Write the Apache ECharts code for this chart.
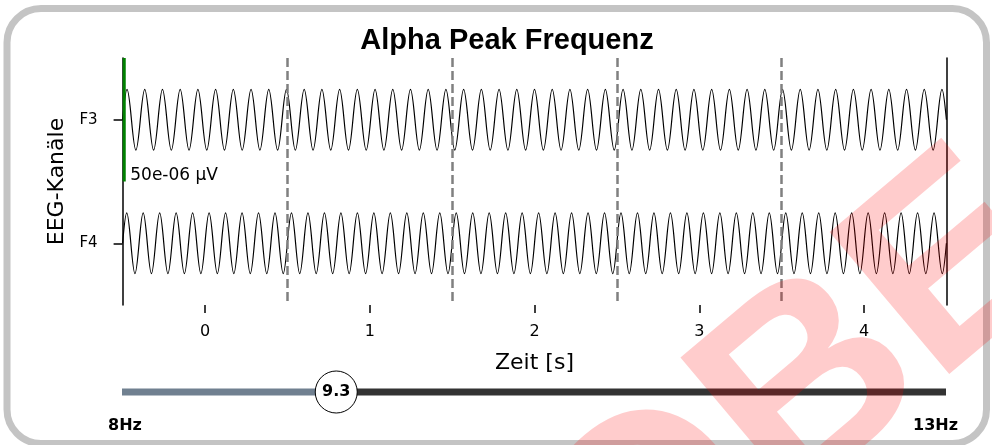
<!DOCTYPE html>
<html><head><meta charset="utf-8">
<script src="https://cdn.jsdelivr.net/npm/echarts@6/dist/echarts.min.js"></script>
<style>html,body{margin:0;padding:0;background:#fff}#chart{width:992px;height:445px}</style>
</head><body><div id="chart"></div>
<script>
// ---- data ----
const channels = ['F3', 'F4'];
const epochTicks = [0, 1, 2, 3, 4];
const epochBoundaries = [0.5, 1.5, 2.5, 3.5];

// F3: extremes of the ~9.3 Hz trace (time in s, value in µV)
const f3Times = [-0.5,
 -0.4731,-0.4194,-0.3656,-0.3118,-0.2581,-0.2043,-0.1505,-0.0968,-0.0430,0.0108,
 0.0645,0.1183,0.1720,0.2258,0.2796,0.3333,0.3871,0.4409,0.4946,0.5484,
 0.6022,0.6559,0.7097,0.7634,0.8172,0.8710,0.9247,0.9785,1.0323,1.0860,
 1.1398,1.1935,1.2473,1.3011,1.3548,1.4086,1.4624,1.5161,1.5699,1.6237,
 1.6774,1.7312,1.7849,1.8387,1.8925,1.9462,2.0000,2.0538,2.1075,2.1613,
 2.2151,2.2688,2.3226,2.3763,2.4301,2.4839,2.5376,2.5914,2.6452,2.6989,
 2.7527,2.8065,2.8602,2.9140,2.9677,3.0215,3.0753,3.1290,3.1828,3.2366,
 3.2903,3.3441,3.3978,3.4516,3.5054,3.5591,3.6129,3.6667,3.7204,3.7742,
 3.8280,3.8817,3.9355,3.9892,4.0430,4.0968,4.1505,4.2043,4.2581,4.3118,
 4.3656,4.4194,4.4731,
 4.5];
const f3Values = [0,
 12.3,-12.3,12.3,-12.3,12.3,-12.3,12.3,-12.3,12.3,-12.3,
 12.3,-12.3,12.3,-12.3,12.3,-12.3,12.3,-12.3,12.3,-12.3,
 12.3,-12.3,12.3,-12.3,12.3,-12.3,12.3,-12.3,12.3,-12.3,
 12.3,-12.3,12.3,-12.3,12.3,-12.3,12.3,-12.3,12.3,-12.3,
 12.3,-12.3,12.3,-12.3,12.3,-12.3,12.3,-12.3,12.3,-12.3,
 12.3,-12.3,12.3,-12.3,12.3,-12.3,12.3,-12.3,12.3,-12.3,
 12.3,-12.3,12.3,-12.3,12.3,-12.3,12.3,-12.3,12.3,-12.3,
 12.3,-12.3,12.3,-12.3,12.3,-12.3,12.3,-12.3,12.3,-12.3,
 12.3,-12.3,12.3,-12.3,12.3,-12.3,12.3,-12.3,12.3,-12.3,
 12.3,-12.3,12.3,
 0];

// F4: extremes of the ~10 Hz trace
const f4Times = [-0.5,
 -0.475,-0.425,-0.375,-0.325,-0.275,-0.225,-0.175,-0.125,-0.075,-0.025,
 0.025,0.075,0.125,0.175,0.225,0.275,0.325,0.375,0.425,0.475,
 0.525,0.575,0.625,0.675,0.725,0.775,0.825,0.875,0.925,0.975,
 1.025,1.075,1.125,1.175,1.225,1.275,1.325,1.375,1.425,1.475,
 1.525,1.575,1.625,1.675,1.725,1.775,1.825,1.875,1.925,1.975,
 2.025,2.075,2.125,2.175,2.225,2.275,2.325,2.375,2.425,2.475,
 2.525,2.575,2.625,2.675,2.725,2.775,2.825,2.875,2.925,2.975,
 3.025,3.075,3.125,3.175,3.225,3.275,3.325,3.375,3.425,3.475,
 3.525,3.575,3.625,3.675,3.725,3.775,3.825,3.875,3.925,3.975,
 4.025,4.075,4.125,4.175,4.225,4.275,4.325,4.375,4.425,4.475,
 4.5];
const f4Values = [0,
 12.3,-12.3,12.3,-12.3,12.3,-12.3,12.3,-12.3,12.3,-12.3,
 12.3,-12.3,12.3,-12.3,12.3,-12.3,12.3,-12.3,12.3,-12.3,
 12.3,-12.3,12.3,-12.3,12.3,-12.3,12.3,-12.3,12.3,-12.3,
 12.3,-12.3,12.3,-12.3,12.3,-12.3,12.3,-12.3,12.3,-12.3,
 12.3,-12.3,12.3,-12.3,12.3,-12.3,12.3,-12.3,12.3,-12.3,
 12.3,-12.3,12.3,-12.3,12.3,-12.3,12.3,-12.3,12.3,-12.3,
 12.3,-12.3,12.3,-12.3,12.3,-12.3,12.3,-12.3,12.3,-12.3,
 12.3,-12.3,12.3,-12.3,12.3,-12.3,12.3,-12.3,12.3,-12.3,
 12.3,-12.3,12.3,-12.3,12.3,-12.3,12.3,-12.3,12.3,-12.3,
 12.3,-12.3,12.3,-12.3,12.3,-12.3,12.3,-12.3,12.3,-12.3,
 0];

const scaleBarTime = -0.49;
const scaleBarRange = [-25, 25];
const scaleBarLabel = '50e-06 µV';

const sliderMin = 8;
const sliderMax = 13;
const sliderValue = 9.3;
const sliderLabels = ['8Hz', '13Hz'];

// ---- chart ----
const zip = (a, b) => a.map((t, i) => [t, b[i]]);
const FONT = '"DejaVu Sans", sans-serif';
const L = 122.6, R = 45.6;
const chart = echarts.init(document.getElementById('chart'), null, { renderer: 'canvas' });

const option = {
  animation: false,
  backgroundColor: '#ffffff',
  title: {
    text: 'Alpha Peak Frequenz', left: 502, top: 21, textAlign: 'center',
    textStyle: { fontFamily: '"Liberation Sans", Arial, sans-serif', fontWeight: 'bold', fontSize: 29, color: '#000' }
  },
  grid: [
    { left: L, right: R, top: 58, height: 247 },
    { left: L, right: R, top: 58, height: 123.5 },
    { left: L, right: R, top: 181.5, height: 123.5 },
    { left: 122, right: 46, top: 372, height: 40 }
  ],
  xAxis: [
    { gridIndex: 0, type: 'value', min: -0.5, max: 4.5,
      axisLine: { show: false, onZero: false }, splitLine: { show: false },
      axisTick: { show: true, customValues: epochTicks, length: 8, lineStyle: { color: '#000', width: 1.5 } },
      axisLabel: { customValues: epochTicks, fontSize: 16, color: '#000', margin: 19, fontFamily: FONT },
      name: 'Zeit [s]', nameLocation: 'middle', nameGap: 47,
      nameTextStyle: { fontSize: 22, fontFamily: FONT, color: '#000' } },
    { gridIndex: 1, type: 'value', min: -0.5, max: 4.5, show: false },
    { gridIndex: 2, type: 'value', min: -0.5, max: 4.5, show: false },
    { gridIndex: 3, type: 'value', min: sliderMin, max: sliderMax, show: false }
  ],
  yAxis: [
    { gridIndex: 0, type: 'category', data: channels, inverse: true,
      axisLine: { show: true, onZero: false, lineStyle: { color: '#000', width: 1.5 } },
      axisTick: { show: true, alignWithLabel: true, length: 9, lineStyle: { color: '#000', width: 1.5 } },
      axisLabel: { fontSize: 15, color: '#000', margin: 25, fontFamily: FONT },
      splitLine: { show: false },
      name: 'EEG-Kanäle', nameLocation: 'middle', nameRotate: 90, nameGap: 41,
      nameTextStyle: { fontSize: 22, fontFamily: FONT, color: '#000' } },
    { gridIndex: 0, type: 'value', position: 'right', min: 0, max: 1,
      axisLine: { show: true, onZero: false, lineStyle: { color: '#000', width: 1.5 } },
      axisTick: { show: false }, axisLabel: { show: false }, splitLine: { show: false } },
    { gridIndex: 1, type: 'value', min: scaleBarRange[0], max: scaleBarRange[1], show: false },
    { gridIndex: 2, type: 'value', min: scaleBarRange[0], max: scaleBarRange[1], show: false },
    { gridIndex: 3, type: 'value', min: -1, max: 1, show: false }
  ],
  series: [
    { name: 'F3', type: 'line', xAxisIndex: 1, yAxisIndex: 2, data: zip(f3Times, f3Values),
      smooth: 0.36, showSymbol: false, symbol: 'none', silent: true,
      lineStyle: { color: '#000', width: 1.2 }, z: 3 },
    { name: 'F4', type: 'line', xAxisIndex: 2, yAxisIndex: 3, data: zip(f4Times, f4Values),
      smooth: 0.36, showSymbol: false, symbol: 'none', silent: true,
      lineStyle: { color: '#000', width: 1.2 }, z: 3 },
    { name: 'scale', type: 'line', xAxisIndex: 1, yAxisIndex: 2, silent: true,
      data: [[scaleBarTime, scaleBarRange[1]],
             { value: [scaleBarTime, scaleBarRange[0]],
               label: { show: true, formatter: scaleBarLabel, position: 'right', distance: 5, offset: [1, -6],
                        fontSize: 17, fontFamily: FONT, color: '#000' } }],
      symbol: 'circle', symbolSize: 0, showSymbol: true,
      lineStyle: { color: '#008000', width: 3 }, itemStyle: { color: '#008000' }, z: 4 },
    { name: 'epochs', type: 'line', xAxisIndex: 0, yAxisIndex: 0, data: [], z: 5,
      markLine: { silent: true, symbol: ['none', 'none'], label: { show: false },
        lineStyle: { color: '#808080', width: 2.5, type: [9, 4] },
        data: epochBoundaries.map(v => ({ xAxis: v })) } },
    { name: 'trackLow', type: 'line', xAxisIndex: 3, yAxisIndex: 4, silent: true,
      data: [[sliderMin, 0], [sliderValue, 0]], symbol: 'none',
      lineStyle: { color: '#708090', width: 7, cap: 'butt' } },
    { name: 'trackHigh', type: 'line', xAxisIndex: 3, yAxisIndex: 4, silent: true,
      data: [[sliderValue, 0], [sliderMax, 0]], symbol: 'none',
      lineStyle: { color: '#333333', width: 7, cap: 'butt' } },
    { name: 'knob', type: 'scatter', xAxisIndex: 3, yAxisIndex: 4, silent: true, z: 6,
      data: [[sliderValue, 0]], symbolSize: 42,
      itemStyle: { color: '#ffffff', borderColor: '#000', borderWidth: 1, opacity: 1 },
      label: { show: true, position: 'inside', formatter: String(sliderValue),
               fontWeight: 'bold', fontSize: 16, color: '#000', fontFamily: FONT } }
  ],
  graphic: [
    { type: 'rect', silent: true, z: -10,
      shape: { x: 7, y: 8.5, width: 979.5, height: 435, r: 34 },
      style: { fill: 'none', stroke: '#c4c4c4', lineWidth: 7 } },
    { type: 'text', left: 108, top: 418, silent: true,
      style: { text: sliderLabels[0], font: 'bold 16px "DejaVu Sans"', fill: '#000' } },
    { type: 'text', right: 34, top: 418, silent: true,
      style: { text: sliderLabels[1], font: 'bold 16px "DejaVu Sans"', fill: '#000' } },
    { type: 'text', x: 658, y: 522, rotation: 0.70, silent: true, z: 100,
      style: { text: 'PROBE', font: 'bold 270px "Liberation Sans"', fill: 'rgba(255,0,0,0.2)',
               textAlign: 'center', textVerticalAlign: 'middle' } }
  ]
};
chart.setOption(option);
</script>
</body></html>
